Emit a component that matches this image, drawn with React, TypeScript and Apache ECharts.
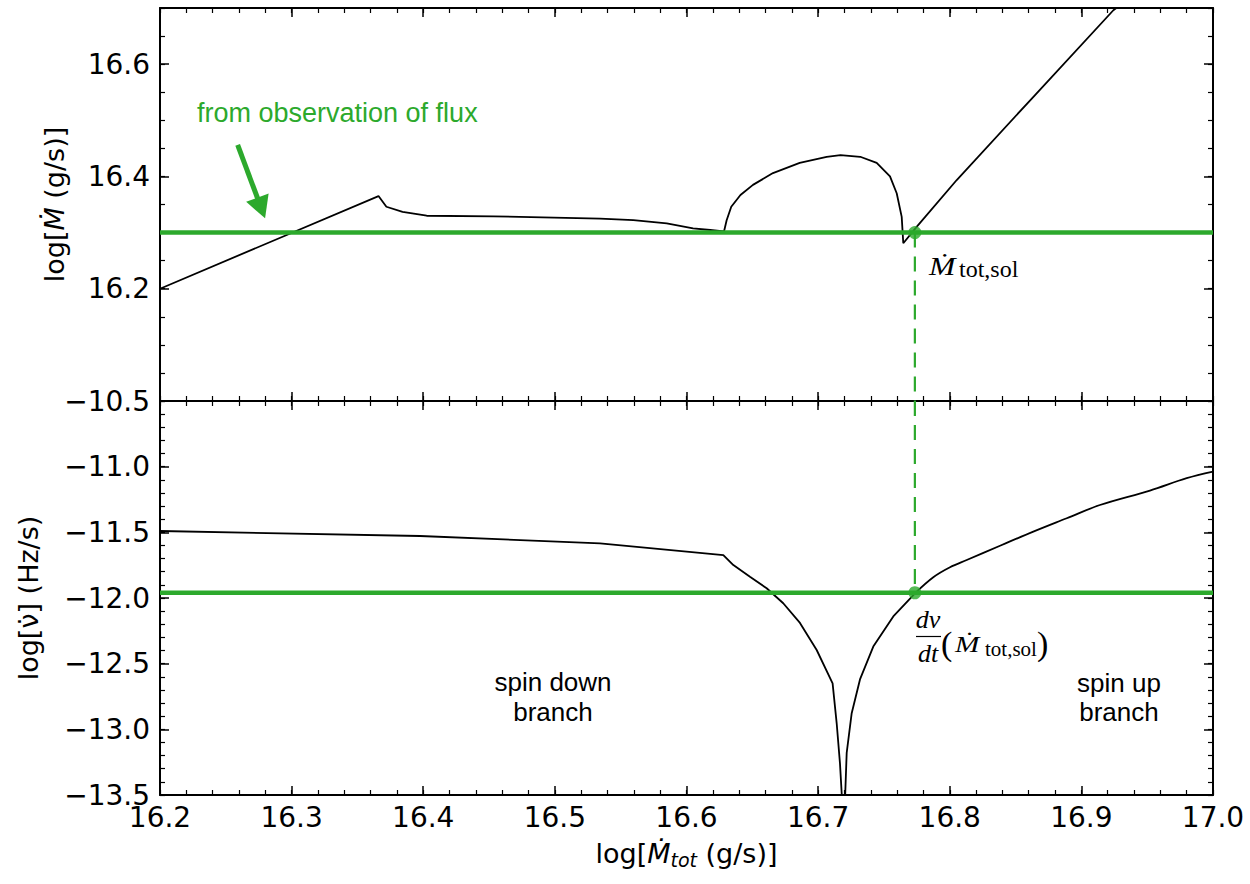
import React, { useEffect, useRef } from 'react';
import * as echarts from 'echarts';

// ---- data ----
const topX = [16.2, 16.366, 16.372, 16.3843, 16.4026, 16.4533, 16.5343, 16.5596, 16.585, 16.605, 16.618, 16.6285,
  16.6305, 16.634, 16.641, 16.6505, 16.6657, 16.686, 16.7065, 16.717, 16.732, 16.7445, 16.7546, 16.7597, 16.7635,
  16.7647, 16.775, 16.8053, 16.8648, 16.9243, 16.93];
const topY = [16.2, 16.365, 16.346, 16.337, 16.33, 16.329, 16.325, 16.322, 16.3165, 16.3076, 16.3046, 16.302,
  16.322, 16.346, 16.367, 16.385, 16.406, 16.424, 16.435, 16.438, 16.435, 16.424, 16.4, 16.37, 16.328,
  16.281, 16.3105, 16.3936, 16.545, 16.696, 16.706];

// spin-down branch (down to the cusp)
const downX = [16.2, 16.3975, 16.5343, 16.628, 16.6356, 16.6482, 16.6609, 16.6735, 16.6862, 16.6989, 16.711, 16.7141,
  16.7166, 16.7179, 16.7186];
const downY = [-11.49, -11.528, -11.584, -11.673, -11.749, -11.838, -11.926, -12.04, -12.19, -12.396, -12.65, -12.954,
  -13.259, -13.487, -13.7];
// spin-up branch (from the cusp)
const upX = [16.7202, 16.7206, 16.7217, 16.7255, 16.7318, 16.7419, 16.7571, 16.7736, 16.7875, 16.8002,
  16.8129, 16.8382, 16.8635, 16.8889, 16.9141, 16.9521, 16.98, 17.0];
const upY = [-13.7, -13.487, -13.18, -12.877, -12.62, -12.37, -12.14, -11.964, -11.842, -11.766,
  -11.711, -11.602, -11.495, -11.393, -11.292, -11.182, -11.088, -11.038];
const upSplit = 7; // steep part drawn with straight segments, the rest smoothed

const obsMdot = 16.3;
const solX = 16.7735;
const solNudot = -11.96;
const arrowFrom = [16.259, 16.456];
const arrowTo = [16.2769, 16.3438];

const xRange = [16.2, 17.0];
const topRange = [16.0, 16.7];
const botRange = [-13.5, -10.5];
const topShown = [16.2, 16.4, 16.6];

const GREEN = '#2ca92c';
const SANS = '"DejaVu Sans", sans-serif';
const ARIAL = '"Liberation Sans", Arial, sans-serif';
const SERIF = '"Liberation Serif", "DejaVu Serif", serif';

const fmt = (v: number) => v.toFixed(1).replace('-', '\u2212');

const nameRich = {
  n: { fontFamily: SANS, fontSize: 27, color: '#000', lineHeight: 32 },
  i: { fontFamily: SANS, fontSize: 27, fontStyle: 'italic', color: '#000', lineHeight: 32 },
  s: { fontFamily: SANS, fontSize: 19, fontStyle: 'italic', color: '#000', lineHeight: 19, verticalAlign: 'bottom' },
};

function axis(gridIndex: number, position: string, range: number[], interval: number, tickLen: number,
  showLine: boolean, label: any, name?: string, gap?: number) {
  return {
    type: 'value', gridIndex, position, min: range[0], max: range[1], interval,
    axisLine: { show: showLine, onZero: false, lineStyle: { color: '#000', width: 2 } },
    axisTick: { show: true, inside: true, length: tickLen, lineStyle: { color: '#000', width: tickLen > 6 ? 1.5 : 1.2 } },
    splitLine: { show: false },
    axisLabel: label
      ? { show: true, fontFamily: SANS, fontSize: 28, color: '#000', margin: label.margin, formatter: label.formatter }
      : { show: false },
    name, nameLocation: 'middle', nameGap: gap, nameTextStyle: { rich: nameRich },
  };
}

const pairs = (xs: number[], ys: number[]) => xs.map((x, i) => [x, ys[i]]);

export default function App() {
  const ref = useRef<HTMLDivElement>(null);
  useEffect(() => {
    if (!ref.current) return;
    const chart = echarts.init(ref.current, undefined, { renderer: 'svg' });
    const line = (xi: number, yi: number, data: number[][], color: string, width: number, z: number, type: any = 'solid') => ({
      type: 'line', xAxisIndex: xi, yAxisIndex: yi, data, symbol: 'none', showSymbol: false, silent: true,
      lineStyle: { color, width, type }, z, clip: true,
    });
    const topG = { left: 160, top: 8, width: 1053, height: 393 };
    const botG = { left: 160, top: 401, width: 1053, height: 394 };
    const xLabel = { margin: 8, formatter: fmt };
    const topLabel = { margin: 10, formatter: (v: number) => (topShown.some((t) => Math.abs(t - v) < 1e-6) ? fmt(v) : '') };
    const botLabel = { margin: 10, formatter: fmt };
    const txt = (x: number, y: number, text: string, size: number, family: string, opts: any = {}) => ({
      type: 'text', x, y, scaleX: opts.scaleX ?? 1,
      style: {
        text, fill: opts.fill ?? '#000', fontSize: size, fontFamily: family, fontStyle: opts.italic ? 'italic' : 'normal',
        align: opts.align ?? 'left', verticalAlign: 'middle',
      },
    });
    const upPts = pairs(upX, upY);
    chart.setOption({
      animation: false,
      backgroundColor: '#fff',
      grid: [topG, botG, { ...topG }, { ...botG }],
      xAxis: [
        axis(0, 'bottom', xRange, 0.1, 9, true, null),
        axis(0, 'top', xRange, 0.1, 9, true, null),
        axis(1, 'bottom', xRange, 0.1, 9, true, xLabel, '{n|log[}{i|Ṁ}{s|tot}{n| (g/s)]}', 42),
        axis(1, 'top', xRange, 0.1, 9, true, null),
        // minor ticks
        axis(2, 'bottom', xRange, 0.02, 5, false, null),
        axis(2, 'top', xRange, 0.02, 5, false, null),
        axis(3, 'bottom', xRange, 0.02, 5, false, null),
        axis(3, 'top', xRange, 0.02, 5, false, null),
      ],
      yAxis: [
        axis(0, 'left', topRange, 0.2, 9, true, topLabel, '{n|log[}{i|Ṁ}{n| (g/s)]}', 90),
        axis(0, 'right', topRange, 0.2, 9, true, null),
        axis(1, 'left', botRange, 0.5, 9, true, botLabel, '{n|log[ν\u0307] (Hz/s)}', 116),
        axis(1, 'right', botRange, 0.5, 9, true, null),
        // minor ticks
        axis(2, 'left', topRange, 0.05, 5, false, null),
        axis(2, 'right', topRange, 0.05, 5, false, null),
        axis(3, 'left', botRange, 0.1, 5, false, null),
        axis(3, 'right', botRange, 0.1, 5, false, null),
      ],
      series: [
        line(0, 0, pairs(topX, topY), '#000', 1.8, 2),
        {
          ...line(0, 0, [[xRange[0], obsMdot], [xRange[1], obsMdot]], GREEN, 4.5, 3),
          markLine: {
            silent: true, symbol: ['none', 'triangle'], symbolSize: [24, 22],
            label: { show: false },
            lineStyle: { color: GREEN, width: 5, type: 'solid' },
            data: [[{ coord: arrowFrom }, { coord: arrowTo }]],
          },
        },
        line(0, 0, [[solX, obsMdot], [solX, topRange[0]]], GREEN, 2.2, 3, [15, 9]),
        { type: 'scatter', xAxisIndex: 0, yAxisIndex: 0, data: [[solX, obsMdot]], symbolSize: 13, itemStyle: { color: GREEN }, z: 5, silent: true },
        line(2, 2, pairs(downX, downY), '#000', 1.8, 2),
        line(2, 2, upPts.slice(0, upSplit + 1), '#000', 1.8, 2),
        { ...line(2, 2, upPts.slice(upSplit), '#000', 1.8, 2), smooth: 0.35 },
        line(2, 2, [[xRange[0], solNudot], [xRange[1], solNudot]], GREEN, 4.5, 3),
        line(2, 2, [[solX, botRange[1]], [solX, solNudot]], GREEN, 2.2, 3, [15, 9]),
        { type: 'scatter', xAxisIndex: 2, yAxisIndex: 2, data: [[solX, solNudot]], symbolSize: 13, itemStyle: { color: GREEN }, z: 5, silent: true },
      ],
      graphic: [
        txt(197, 113, 'from observation of flux', 27, ARIAL, { fill: GREEN }),
        txt(553, 682, 'spin down', 26, ARIAL, { align: 'center' }),
        txt(553, 712, 'branch', 26, ARIAL, { align: 'center' }),
        txt(1119, 683, 'spin up', 26, ARIAL, { align: 'center' }),
        txt(1119, 712, 'branch', 26, ARIAL, { align: 'center' }),
        // Mdot_tot,sol (top)
        txt(929, 266, 'Ṁ', 26, SERIF, { italic: true, scaleX: 1.22 }),
        txt(959, 269, 'tot,sol', 24, SERIF),
        // dnu/dt (Mdot_tot,sol)
        txt(928, 619, 'dν', 26, SERIF, { italic: true, align: 'center' }),
        { type: 'line', shape: { x1: 916, y1: 636.5, x2: 941, y2: 636.5 }, style: { stroke: '#000', lineWidth: 1.2 } },
        txt(928, 653, 'dt', 26, SERIF, { italic: true, align: 'center' }),
        txt(941, 643, '(', 34, SERIF),
        txt(955, 644, 'Ṁ', 24, SERIF, { italic: true, scaleX: 1.22 }),
        txt(985, 648.5, 'tot,sol', 21, SERIF),
        txt(1037, 643, ')', 34, SERIF),
      ],
    });
    return () => chart.dispose();
  }, []);
  return <div ref={ref} style={{ position: 'absolute', left: 0, top: 0, width: 1250, height: 884 }} />;
}
